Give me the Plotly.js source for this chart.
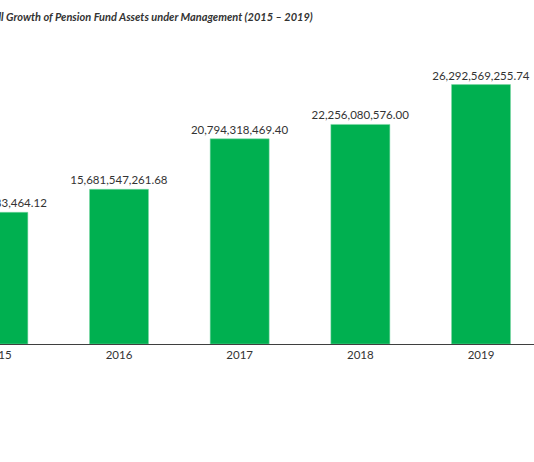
<!DOCTYPE html>
<html>
<head>
<meta charset="utf-8">
<script src="https://cdn.plot.ly/plotly-3.0.1.min.js"></script>
<style>
  html, body { margin: 0; padding: 0; width: 534px; height: 462px; overflow: hidden; background: #fff; }
  #chart { position: absolute; left: -100px; top: 0; width: 634px; height: 462px; }
</style>
</head>
<body>
<div id="chart"></div>
<script>
const years = ['2015', '2016', '2017', '2018', '2019'];
const assets = [13351283464.12, 15681547261.68, 20794318469.40, 22256080576.00, 26292569255.74];
const chartTitle = 'Overall Growth of Pension Fund Assets under Management (2015 – 2019)';

const trace = {
  type: 'bar',
  x: years,
  y: assets,
  marker: { color: '#00B050', line: { color: '#7fd8a7', width: 0.5 } },
  texttemplate: '%{y:,.2f}',
  textposition: 'outside',
  constraintext: 'none',
  cliponaxis: false,
  textfont: { family: 'Lato, "Open Sans", sans-serif', size: 11.5, color: '#333333' },
  hoverinfo: 'none'
};

const layout = {
  width: 634,
  height: 462,
  margin: { l: 38, r: 0, t: 48, b: 118, pad: 0 },
  paper_bgcolor: '#ffffff',
  plot_bgcolor: '#ffffff',
  showlegend: false,
  bargap: 0.511,
  title: {
    text: chartTitle,
    x: 0.651,
    xanchor: 'right',
    y: 0.963,
    yanchor: 'middle',
    font: { family: 'Lato, "Open Sans", sans-serif', size: 11.0, color: '#333333', style: 'italic', weight: 700 }
  },
  xaxis: {
    type: 'category',
    range: [-0.5, 4.439],
    showline: true,
    linecolor: '#3f3f3f',
    linewidth: 1.3,
    ticks: '',
    showgrid: false,
    zeroline: false,
    tickfont: { family: 'Lato, "Open Sans", sans-serif', size: 11.5, color: '#333333' },
    fixedrange: true
  },
  yaxis: {
    range: [0, 30e9],
    visible: false,
    showgrid: false,
    zeroline: false,
    fixedrange: true
  }
};

Plotly.newPlot('chart', [trace], layout, { displayModeBar: false, staticPlot: true });
</script>
</body>
</html>
